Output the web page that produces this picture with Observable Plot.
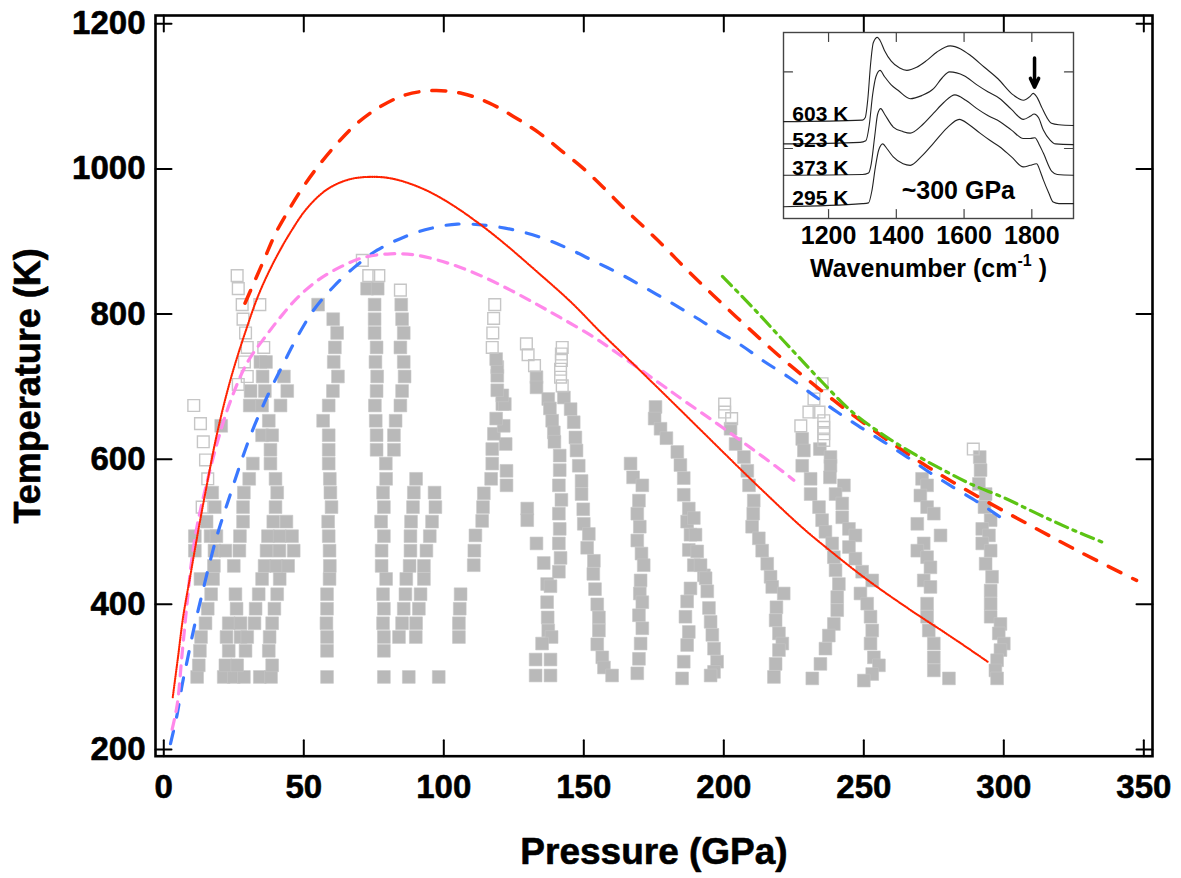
<!DOCTYPE html>
<html><head><meta charset="utf-8">
<script src="https://cdn.jsdelivr.net/npm/d3@7"></script>
<script src="https://cdn.jsdelivr.net/npm/@observablehq/plot@0.6"></script>
<style>
body{margin:0;background:#fff;}
#wrap{position:relative;width:1181px;height:878px;overflow:hidden;}
#inset{position:absolute;left:773.3px;top:27.3px;}
</style></head><body><div id="wrap"><div id="main"></div><div id="inset"></div></div>
<script>
// ---------- main chart data ----------
const xTicks = [0, 50, 100, 150, 200, 250, 300, 350];
const yTicks = [200, 400, 600, 800, 1000, 1200];
const xTitle = "Pressure (GPa)";
const yTitle = "Temperature (K)";

const redDashed = [[29,815],[35.7,874],[39.9,911],[44.1,940],[49.4,973],[55.4,1005],[61.9,1035],[69.1,1063],[77.4,1086],[86.3,1102],[96.4,1108],[106.6,1104],[116.1,1091],[125,1072],[133.9,1050],[141.7,1026],[150,1000],[157.1,974],[164.3,946],[172,918],[179.2,891],[186.3,863],[193.5,836],[200.6,810],[208.4,782],[215.5,757],[222.6,733],[239.3,681],[256,633],[272.6,590],[290.5,549],[308.4,511],[326.8,473],[347.4,433]];
const redDotted = [[3.2,272],[5,325],[7,385],[9.5,440],[12,495],[15,557],[19,635],[24,712],[29.8,783],[34,828],[39.3,872],[45.3,913],[51.2,946],[58.4,972],[66.7,986],[76.2,989],[83.4,985],[92.9,972],[102.4,952],[112.5,925],[121.4,898],[133.4,858],[145.3,817],[156,775],[169.1,726],[183.4,672],[197.6,618],[209.5,573],[227.4,508],[235.7,481],[251.2,434],[267.9,389],[282.1,353],[294.6,320]];
const blueDashed = [[2.4,208],[4.8,249],[6.6,290],[8.6,327],[10.7,366],[13.1,405],[18.5,488],[23.8,552],[27.4,594],[31,633],[35.7,676],[39.9,710],[42.9,733],[47.6,768],[53.6,806],[60.7,838],[67.9,864],[76.2,888],[85.7,906],[95.2,918],[104.8,924],[115.5,922],[125,916],[135.1,905],[144.6,890],[153.6,873],[163.1,855],[172,836],[181,816],[189.3,797],[197.6,777],[206.6,756],[214.3,735],[223.2,713],[232.1,688],[240.5,665],[248.8,644],[257.1,624],[265.5,603],[273.8,581],[282.1,561],[291.1,540],[298.8,520]];
const pinkDashed = [[3,228],[4.8,262],[6.5,330],[8.4,405],[10,462],[12,510],[14.9,560],[19.1,623],[23.8,680],[29.8,733],[36.9,772],[41.7,796],[47.6,822],[54.8,846],[63.1,865],[71.4,878],[81,883],[90.5,881],[102.4,869],[113.1,853],[123.8,833],[133.4,813],[141.7,795],[152.4,771],[162,746],[176.2,707],[185.7,681],[197.6,649],[209.5,616],[221.4,582],[225,571]];
const greenDashDot = [[199.5,852],[210.1,810],[218.5,775],[226.2,743],[235.7,704],[245.3,667],[256,636],[266.7,610],[277.4,587],[288.1,566],[300,547],[311.9,525],[323.8,504],[336.3,484]];

const filledSquares = [
 [11.9,300],[12.5,316],[12.9,336],[13.3,355],[14.9,374],[15.7,394],[16.9,414],[13.1,435],[17.6,435],[17.9,453],[11.1,474],[11.1,494],[16.7,494],[18.8,494],[15.3,514],[18.2,534],[17.3,554],
 [21.4,300],[25,300],[28.6,300],[34.3,300],[38.3,300],[22,316],[26.2,316],[38.7,316],[23.2,336],[29.2,336],[37.5,336],[22.4,355],[27.4,355],[29.8,355],[37.8,355],[23.2,374],[27.4,374],[32.4,374],[38.7,374],[26,394],[32.8,394],[39.5,394],[25.6,414],[33.9,414],[40.5,414],[35.1,435],[41.4,435],[25,453],[36,453],[40.2,453],[44.4,453],[18.1,474],[22,474],[27,474],[36.7,474],[41.3,474],[46.4,474],[27.2,494],[37.2,494],[41.4,494],[45.8,494],[28.3,514],[39.1,514],[43.8,514],[28.3,534],[39.9,534],[28.6,554],[40.5,554],[30.5,573],[39.9,573],[31.8,594],[38.1,594],[38.1,613],[35.1,633],[38.7,633],[37.5,653],[20.5,646],[30.7,674],[35.1,674],[41.7,674],[31,694],[36.1,694],[44.1,694],[35.3,714],[42.9,714],[34.5,734],[36.5,734],
 [58.3,300],[58.3,336],[58.3,355],[58.1,374],[58.3,394],[58.3,414],[59.2,435],[59.3,453],[59.2,474],[58.9,494],[58.7,514],[59.9,534],[59.5,554],[59.3,573],[58.9,594],[58.9,613],[58.9,633],[56.9,653],[58.9,674],[60.4,694],[62.2,714],[60.7,734],[61.1,754],[61.9,774],[60.5,793],[55.1,813],
 [78.6,300],[78.6,336],[78.6,355],[78.3,374],[78.6,394],[78.3,414],[79.4,435],[77.8,453],[77.8,474],[78.6,494],[77.6,514],[78.6,534],[78.3,554],[79.4,573],[79.3,594],[76,613],[76,633],[75.7,653],[75.4,674],[76,694],[76.2,714],[75.6,734],[76,754],[75.3,774],[75.3,793],[75.3,813],[72.6,835],[76.4,835],
 [82.2,613],[82.2,633],[82.8,653],[84.5,674],[85.1,694],[86,714],[85.7,734],[84.5,754],[85.7,774],[85.1,793],[84.8,813],
 [87.5,300],[98.2,300],[84,355],[90,355],[85.1,374],[90.1,374],[85.7,394],[91.1,394],[86.3,414],[91.7,414],[86.6,435],[92.9,435],[87.8,453],[92.9,453],[88.1,474],[93.8,474],[88.1,494],[95,494],[88.3,514],[95.8,514],[89,534],[97,534],[89.3,554],[96.7,554],[90.1,573],
 [105.4,355],[105.4,374],[105.7,394],[106,414],
 [110.7,454],[110.9,474],[111.3,495],[113.7,515],[114,534],[114.3,553],[116.9,573],[122.4,564],[122.4,584],[117.3,594],[117.3,614],[122.1,621],[117.9,635],[121.4,646],[118.7,656],[120.9,676],[121.8,676],[120.9,688],[119.1,695],[119.1,715],[119.1,727],[118.7,738],
 [133.1,713],[133.1,699],[137.3,683],[137.9,670],[138.7,653],[139.3,637],[139.5,624],[141.4,605],[141.4,585],[141.1,564],[142,544],[141.1,525],[141.4,504],[141.1,484],[141.7,464],[141.1,445],
 [129.8,532],[129.8,516],[133.1,484],[135.7,457],[136.9,428],[138.1,425],[136.9,403],[137.1,382],[137.3,364],[138.5,355],[135.1,346],[132.8,324],[138.1,324],[132.8,302],[138.1,302],
 [142.9,685],[145.3,669],[146.4,651],[147,630],[147.4,612],[148.2,591],[149.2,570],[149.2,552],[149.8,531],[150,511],[151.8,497],[151.2,478],[153.6,460],[153.4,442],[154,421],[154.8,400],[155.4,382],[155.4,364],[154.8,345],[156.6,327],[157.2,313],[160.1,302],
 [166.7,594],[167.6,575],[170.9,564],[169.7,543],[169.1,525],[170,507],[169.1,488],[170.6,470],[171.4,454],[170.3,433],[170,415],[170.9,403],[169.7,385],[170.9,367],[170.3,346],[169.7,325],[169.1,305],
 [175.6,672],[175.3,656],[177.4,642],[179.5,629],[183.4,610],[184.5,592],[185.7,574],[185.7,551],[187.5,532],[186.9,514],[188.1,496],[187.5,475],[189.3,454],[192.9,440],[188.1,422],[186.9,404],[186.3,383],[187.5,362],[186.9,344],[185.7,321],[185.1,298],
 [189.3,519],[189.9,496],[190.5,473],[191.7,454],[193.5,436],[194.1,418],[194.7,395],[195.3,376],[195.9,358],[196.5,339],[197.6,321],[196.5,307],[195.3,302],
 [202.4,642],[204.2,621],[207.2,603],[208.4,584],[209,564],[210.7,543],[210.5,525],[210.1,507],[212.5,491],[213.7,474],[215.5,456],[216.7,438],[217.3,424],[221.4,415],[218.8,396],[218.5,378],[219.7,360],[220.9,346],[219.7,337],[218.5,318],[217.9,300],
 [228,628],[228.6,612],[228,591],[231,573],[231,552],[234,534],[235.1,516],[236.3,500],[238.7,484],[239.3,465],[239.9,447],[241.1,428],[240.5,410],[240.5,392],[239.3,373],[237.5,357],[236.3,339],[234.5,318],[231.6,298],
 [234.3,614],[238.1,603],[238.1,591],[237.9,575],[242.9,564],[239.9,552],[242.3,539],[242.3,520],[244.7,504],[247,495],[244.7,479],[247,463],[249.4,445],[253,433],[248.8,415],[251.2,401],[252.4,383],[253,364],[252.4,346],[253.6,327],[255.4,316],[253,304],[250,295],
 [270.8,573],[272.6,564],[270.2,550],[272.6,534],[275,525],[277.4,495],[269.1,511],[271.4,484],[269.1,474],[272.6,465],[273.8,451],[271.4,433],[273.8,424],[272.6,401],[272.6,383],[273.2,364],[275,346],[275,327],[275,309],[280.4,298],
 [291.4,603],[291.7,585],[291.1,566],[293.5,552],[293.1,534],[295.3,516],[292.3,504],[294.7,495],[292.3,484],[295.3,474],[293.5,456],[295.8,438],[295.3,419],[295.3,401],[295.3,383],[298.8,373],[298.2,360],[300,346],[298.8,337],[297.6,323],[297,309],[297.6,298]
];
const openSquares = [
 [10.7,674],[13.1,649],[14.1,624],[14.9,599],[15.7,573],[13.7,534],
 [26.2,853],[26.6,835],[28,813],[28.3,793],[29.2,774],[29.8,754],[28.8,734],[29.8,714],[26.6,703],[34.3,813],[35.7,754],
 [70.9,874],[73.2,853],[76.8,853],[84.5,833],
 [118.2,813],[117.8,794],[117.5,774],[117.3,754],
 [129.5,759],[130.1,744],[132.4,729],
 [142.3,754],[142,745],[142,736],[141.7,724],[141.7,713],[142.3,701],
 [200.3,676],[200.3,665],[202.8,656],
 [227.5,646],
 [235.1,704],[232.2,683],[230.4,665],[234,665],[235.7,653],[235.7,644],[235.7,635],[235.7,626],
 [289.1,614]
];

// ---------- inset data ----------
const wnTicks = [1200, 1400, 1600, 1800];
const intensityTicks = [1, 2];
const wnTitle = "Wavenumber (cm-1)";
const spectrum603 = [[1067,1.35],[1300,1.37],[1308,1.40],[1316,1.65],[1324,2.10],[1332,2.38],[1344,2.45],[1352,2.41],[1365,2.28],[1385,2.14],[1410,2.05],[1431,2.02],[1460,2.06],[1490,2.15],[1520,2.26],[1559,2.34],[1590,2.30],[1620,2.21],[1660,2.06],[1700,1.91],[1745,1.70],[1775,1.63],[1795,1.68],[1804,1.72],[1815,1.67],[1830,1.53],[1845,1.40],[1858,1.33],[1880,1.31],[1923,1.30]];
const spectrum523 = [[1067,1.06],[1293,1.08],[1310,1.10],[1320,1.30],[1330,1.70],[1340,1.94],[1352,2.02],[1365,1.94],[1385,1.83],[1405,1.76],[1441,1.65],[1475,1.69],[1510,1.78],[1535,1.92],[1557,2.00],[1600,1.95],[1638,1.83],[1670,1.74],[1706,1.65],[1740,1.51],[1775,1.38],[1795,1.42],[1807,1.45],[1820,1.40],[1834,1.24],[1854,1.11],[1870,1.06],[1923,1.05]];
const spectrum373 = [[1067,0.65],[1300,0.66],[1318,0.68],[1326,0.80],[1336,1.15],[1345,1.45],[1354,1.52],[1365,1.45],[1391,1.28],[1420,1.22],[1441,1.20],[1475,1.30],[1510,1.46],[1540,1.60],[1573,1.70],[1605,1.63],[1638,1.52],[1670,1.43],[1706,1.35],[1740,1.24],[1775,1.13],[1795,1.13],[1809,1.14],[1822,1.05],[1834,0.94],[1859,0.70],[1875,0.66],[1923,0.65]];
const spectrum295 = [[1067,0.24],[1300,0.28],[1318,0.29],[1328,0.45],[1338,0.75],[1348,0.98],[1360,1.06],[1372,1.00],[1391,0.89],[1420,0.80],[1441,0.78],[1475,0.90],[1510,1.07],[1550,1.27],[1586,1.38],[1615,1.31],[1647,1.20],[1675,1.11],[1706,1.02],[1740,0.89],[1775,0.76],[1795,0.78],[1814,0.80],[1825,0.70],[1834,0.59],[1850,0.42],[1863,0.30],[1880,0.28],[1923,0.28]];
const spectrumLabels = ["603 K", "523 K", "373 K", "295 K"];
const spectrumLabelLevels = [1.45, 1.11, 0.74, 0.355];
const spectrumLabelWn = 1093;
const pressureNote = {text: "~300 GPa", wn: 1583, level: 0.446};
const arrowMark = {wn: 1808, from: 2.18, to: 1.80};

// ---------- rendering ----------
const font = "'Liberation Sans', Arial, Helvetica, sans-serif";
const tickShape = {draw(context, l) { context.moveTo(0, 0); context.lineTo(0, -l); }};
const P = d => d[0], T = d => d[1];
const txt = {fontWeight: "bold", fill: "black", lineAnchor: "middle"};
const heavy = {...txt, stroke: "black", strokeWidth: 0.6};

const mainPlot = Plot.plot({
  width: 1181, height: 878,
  marginLeft: 155, marginRight: 29, marginTop: 15, marginBottom: 122.3,
  style: {fontFamily: font, fontWeight: "bold", background: "transparent", overflow: "visible"},
  x: {domain: [-2.96, 353.1], axis: null},
  y: {domain: [190.8, 1211.4], axis: null},
  marks: [
    Plot.dot(filledSquares, {x: P, y: T, symbol: "square", r: 7.2, fill: "#b9b9b9", stroke: "#c6c6c6", strokeWidth: 0.6}),
    Plot.dot(openSquares, {x: P, y: T, symbol: "square", r: 6.6, fill: "none", stroke: "#c6c6c6", strokeWidth: 1.4}),
    Plot.line(redDashed, {x: P, y: T, curve: "catmull-rom", stroke: "#ff2a00", strokeWidth: 3.5, strokeDasharray: "14,13"}),
    Plot.line(blueDashed, {x: P, y: T, curve: "catmull-rom", stroke: "#3a78ff", strokeWidth: 3.2, strokeDasharray: "13,14"}),
    Plot.line(pinkDashed, {x: P, y: T, curve: "catmull-rom", stroke: "#ff88ea", strokeWidth: 3.2, strokeDasharray: "10,8"}),
    Plot.line(greenDashDot, {x: P, y: T, curve: "catmull-rom", stroke: "#5cc414", strokeWidth: 3.2, strokeDasharray: "13,6,3,6"}),
    Plot.line(redDotted, {x: P, y: T, curve: "catmull-rom", stroke: "#ff2200", strokeWidth: 2.1, strokeDasharray: "0.9,1.4"}),
    Plot.frame({stroke: "black", strokeWidth: 2.6}),
    Plot.vector(xTicks, {x: d => d, frameAnchor: "bottom", rotate: 0, length: 16, anchor: "start", shape: tickShape, stroke: "black", strokeWidth: 2}),
    Plot.vector(xTicks, {x: d => d, frameAnchor: "top", rotate: 180, length: 16, anchor: "start", shape: tickShape, stroke: "black", strokeWidth: 2}),
    Plot.vector(yTicks, {y: d => d, frameAnchor: "left", rotate: 90, length: 16, anchor: "start", shape: tickShape, stroke: "black", strokeWidth: 2}),
    Plot.vector(yTicks, {y: d => d, frameAnchor: "right", rotate: -90, length: 16, anchor: "start", shape: tickShape, stroke: "black", strokeWidth: 2}),
    Plot.text(xTicks, {x: d => d, frameAnchor: "bottom", dy: 31, text: d => String(d), fontSize: 33, textAnchor: "middle", ...heavy}),
    Plot.text(yTicks, {y: d => d, frameAnchor: "left", dx: -10, textAnchor: "end", text: d => String(d), fontSize: 33, ...heavy}),
    Plot.text([xTitle], {frameAnchor: "bottom", dy: 96, text: d => d, fontSize: 37, textAnchor: "middle", ...heavy}),
    Plot.text([yTitle], {frameAnchor: "left", dx: -127, rotate: -90, text: d => d, fontSize: 36, textAnchor: "middle", ...heavy})
  ]
});
document.getElementById("main").appendChild(mainPlot);

const insetPlot = Plot.plot({
  width: 310, height: 261,
  marginLeft: 10, marginRight: 10, marginTop: 5, marginBottom: 70,
  style: {fontFamily: font, fontWeight: "bold", background: "transparent", overflow: "visible"},
  x: {domain: [1067, 1923], axis: null},
  y: {domain: [0.086, 2.514], axis: null},
  marks: [
    Plot.frame({fill: "white", stroke: "#444", strokeWidth: 1.4}),
    Plot.vector(wnTicks, {x: d => d, frameAnchor: "bottom", rotate: 0, length: 9, anchor: "start", shape: tickShape, stroke: "#444", strokeWidth: 1.2}),
    Plot.vector(wnTicks, {x: d => d, frameAnchor: "top", rotate: 180, length: 9, anchor: "start", shape: tickShape, stroke: "#444", strokeWidth: 1.2}),
    Plot.vector(intensityTicks, {y: d => d, frameAnchor: "left", rotate: 90, length: 9, anchor: "start", shape: tickShape, stroke: "#444", strokeWidth: 1.2}),
    Plot.vector(intensityTicks, {y: d => d, frameAnchor: "right", rotate: -90, length: 9, anchor: "start", shape: tickShape, stroke: "#444", strokeWidth: 1.2}),
    ...[spectrum603, spectrum523, spectrum373, spectrum295].map(s =>
      Plot.line(s, {x: P, y: T, curve: "monotone-x", stroke: "#222", strokeWidth: 1.1})),
    Plot.arrow([arrowMark], {x1: d => d.wn, x2: d => d.wn, y1: d => d.from, y2: d => d.to, stroke: "black", strokeWidth: 3.5, headLength: 8, headAngle: 50}),
    Plot.text(spectrumLabels, {x: () => spectrumLabelWn, y: (d, i) => spectrumLabelLevels[i], text: d => d, textAnchor: "start", fontSize: 21, ...txt}),
    Plot.text([pressureNote], {x: d => d.wn, y: d => d.level, text: d => d.text, fontSize: 25, textAnchor: "middle", ...txt}),
    Plot.text(wnTicks, {x: d => d, frameAnchor: "bottom", dy: 17, text: d => String(d), fontSize: 25, textAnchor: "middle", ...txt}),
    Plot.text([wnTitle], {frameAnchor: "bottom", dy: 50, text: d => d, fontSize: 25, textAnchor: "middle", ...txt})
  ]
});
document.getElementById("inset").appendChild(insetPlot);

// superscript for cm-1 (kept as real text)
const wl = [...insetPlot.querySelectorAll("text")].find(t => t.textContent === wnTitle);
if (wl) {
  const ns = "http://www.w3.org/2000/svg";
  wl.textContent = "";
  const a = document.createElementNS(ns, "tspan"); a.textContent = "Wavenumber (cm";
  const b = document.createElementNS(ns, "tspan"); b.textContent = "-1"; b.setAttribute("dy", "-11"); b.setAttribute("font-size", "16");
  const c = document.createElementNS(ns, "tspan"); c.textContent = " )"; c.setAttribute("dy", "11");
  wl.append(a, b, c);
}
</script></body></html>
